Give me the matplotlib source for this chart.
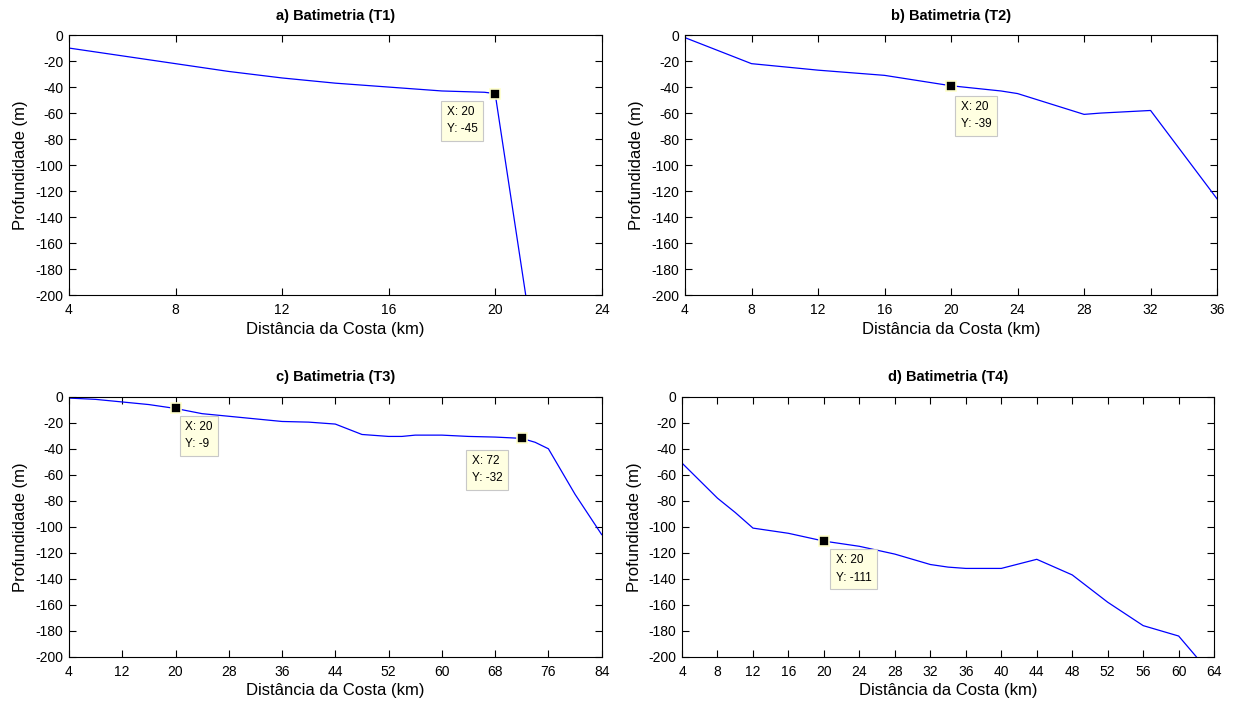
import matplotlib.pyplot as plt

plt.rcParams['font.family'] = ['Liberation Sans', 'DejaVu Sans']
plt.rcParams['axes.unicode_minus'] = False

# bathymetric profiles (distance from coast in km, depth in m)
dist_t1 = [4, 6, 8, 10, 12, 14, 16, 18, 19.6, 20, 22]
prof_t1 = [-10, -16, -22, -28, -33, -37, -40, -43, -44, -45, -315]

dist_t2 = [4, 8, 12, 16, 20, 23, 24, 28, 29, 32, 36]
prof_t2 = [-2, -22, -27, -31, -39, -43, -45, -61, -60, -58, -126]

dist_t3 = [4, 8, 12, 16, 20, 24, 28, 32, 36, 40, 44, 48, 52, 54, 56, 60, 64, 68, 72, 74, 76, 80, 84]
prof_t3 = [-1, -2, -4, -6, -9, -13, -15, -17, -19, -19.5, -21, -29, -30.5, -30.5, -29.5,
           -29.5, -30.5, -31, -32, -35, -40, -75, -106]

dist_t4 = [4, 8, 10, 12, 16, 20, 24, 28, 32, 34, 36, 40, 44, 48, 52, 56, 60, 62, 64]
prof_t4 = [-51, -78, -89, -101, -105, -111, -115, -121, -129, -131, -132, -132, -125,
           -137, -158, -176, -184, -200, -222]

titles = ['a) Batimetria (T1)', 'b) Batimetria (T2)', 'c) Batimetria (T3)', 'd) Batimetria (T4)']
xlims = [(4, 24), (4, 36), (4, 84), (4, 64)]
xsteps = [4, 4, 8, 4]

# data tips: (x, y, text offset in points)
tips = [
    [(20, -45, (-35, -9))],
    [(20, -39, (7, -11))],
    [(20, -9, (7, -9)), (72, -32, (-36, -12))],
    [(20, -111, (8.5, -9.5))],
]

positions = [
    [0.0558, 0.579, 0.431, 0.371],
    [0.5542, 0.579, 0.4305, 0.371],
    [0.0558, 0.063, 0.431, 0.371],
    [0.5518, 0.063, 0.4305, 0.371],
]

fig = plt.figure(figsize=(12.36, 7.01), dpi=100)

profiles = [(dist_t1, prof_t1), (dist_t2, prof_t2), (dist_t3, prof_t3), (dist_t4, prof_t4)]
for i, (x, y) in enumerate(profiles):
    ax = fig.add_axes(positions[i])
    ax.plot(x, y, color='#0000ff', lw=0.9)
    ax.set_xlim(*xlims[i])
    ax.set_ylim(-200, 0)
    ax.set_xticks(range(xlims[i][0], xlims[i][1] + 1, xsteps[i]))
    ax.set_yticks(range(-200, 1, 20))
    ax.tick_params(direction='in', top=True, right=True, length=5, width=0.8,
                   labelsize=10)
    ax.tick_params(axis='x', pad=6)
    ax.tick_params(axis='y', pad=4)
    for s in ax.spines.values():
        s.set_linewidth(0.8)
    ax.set_title(titles[i], fontsize=10.5, fontweight='bold', pad=11)
    ax.set_xlabel('Distância da Costa (km)', fontsize=12, labelpad=3)
    ax.set_ylabel('Profundidade (m)', fontsize=12, labelpad=5)

    for tx, ty, off in tips[i]:
        ax.plot(tx, ty, marker='s', ms=7.5, mfc='black', mec='#ffffcc', mew=1.2,
                zorder=5, clip_on=False)
        ax.annotate('X: %g\nY: %g' % (tx, ty), xy=(tx, ty), xytext=off,
                    textcoords='offset points', ha='left', va='top', fontsize=8.5,
                    linespacing=1.6, zorder=6,
                    bbox=dict(boxstyle='square,pad=0.45', fc='#ffffe1', ec='#c8c8c8', lw=0.8))

fig.savefig('out.png', dpi=100)
